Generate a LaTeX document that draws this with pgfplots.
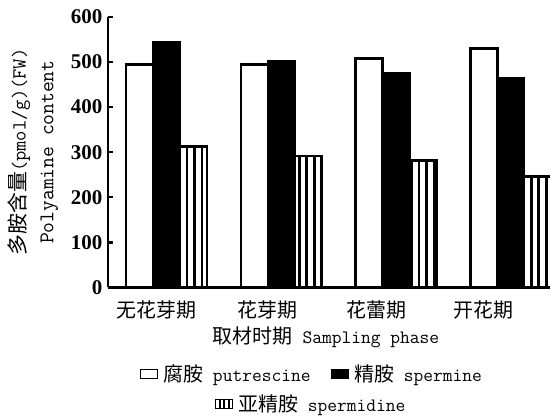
\documentclass[border=0pt]{standalone}
\usepackage{fontspec}
\setmainfont{Liberation Serif}
\newfontfamily\cjk{Noto Sans CJK SC}
\usepackage{pgfplots}
\pgfplotsset{compat=1.18}
\usetikzlibrary{patterns.meta}

\newcommand{\mono}{\fontsize{19}{22}\selectfont\ttfamily}
\newcommand{\zh}{\fontsize{20}{22}\selectfont\cjk}

\pgfplotsset{
  sw/.style={legend image code/.code={
    \draw[##1, line width=1.6pt] (0pt,-4.5pt) rectangle (17pt,4.5pt);}},
}

\begin{document}
\begin{tikzpicture}
  \begin{axis}[
    name=main,
    scale only axis, width=443pt, height=271pt,
    xmin=-0.513, xmax=3.34, ymin=0, ymax=600,
    ybar=0pt, bar width=27pt,
    axis x line=bottom, axis y line=left,
    axis line style={-, line width=2.5pt},
    ytick={0,100,...,600},
    tick align=inside, major tick length=5pt,
    ytick style={line width=2.5pt, black},
    xtick={-0.087,0.878,1.826,2.765},
    xticklabels={无花芽期,花芽期,花蕾期,开花期},
    xtick style={draw=none},
    xticklabel style={font=\zh, anchor=center, yshift=-23pt},
    /pgf/number format/assume math mode=true,
    yticklabel style={font=\fontsize{21}{21}\selectfont\bfseries, xshift=-2pt},
    xlabel={{\zh 取材时期}{\mono\ Sampling phase}},
    xlabel style={at={(axis description cs:0.494,0)}, anchor=center, yshift=-50pt},
    ylabel={{\fontsize{21}{24}\selectfont\cjk 多胺含量}{\fontsize{20}{24}\selectfont\ttfamily (pmol/g)(FW)}\\{\fontsize{21}{24}\selectfont\ttfamily Polyamine content}},
    ylabel style={font=\fontsize{20}{28}\selectfont, align=center,
      at={(axis description cs:-0.169,0.5)}, anchor=center},
    legend columns=2,
    legend cell align=left,
    legend style={at={(axis description cs:0.072,-0.321)}, anchor=west,
      draw=none, fill=none, inner sep=0pt,
      /tikz/every even column/.append style={column sep=18pt}},
  ]
    \addplot[sw, draw=black, fill=white, line width=2.5pt]
      coordinates {(0,495) (1,495) (2,508) (3,530)};
    \addlegendentry{\hspace*{3pt}{\zh 腐胺}{\mono\ putrescine}}
    \addplot[sw, draw=black, fill=black, line width=2.5pt]
      coordinates {(0,543) (1,502) (2,475) (3,464)};
    \addlegendentry{\hspace*{3pt}{\zh 精胺}{\mono\ spermine}}
    \addplot[draw=black, line width=2.5pt,
      pattern={Lines[angle=90, distance=7.5pt, line width=2.8pt]}]
      coordinates {(0,313) (1,292) (2,281) (3,246)};
  \end{axis}
  \begin{axis}[
    scale only axis, width=443pt, height=271pt,
    hide axis, xmin=0, xmax=1, ymin=0, ymax=1,
    legend cell align=left,
    legend style={at={(axis description cs:0.2415,-0.431)}, anchor=west,
      draw=none, fill=none, inner sep=0pt},
  ]
    \addlegendimage{sw, draw=black,
      pattern={Lines[angle=90, distance=5pt, line width=2pt]}}
    \addlegendentry{\hspace*{3pt}{\zh 亚精胺}{\mono\ spermidine}}
  \end{axis}
  \path ([xshift=-108pt,yshift=-128pt]main.south west) rectangle ([yshift=17pt]main.north east);
\end{tikzpicture}
\end{document}
